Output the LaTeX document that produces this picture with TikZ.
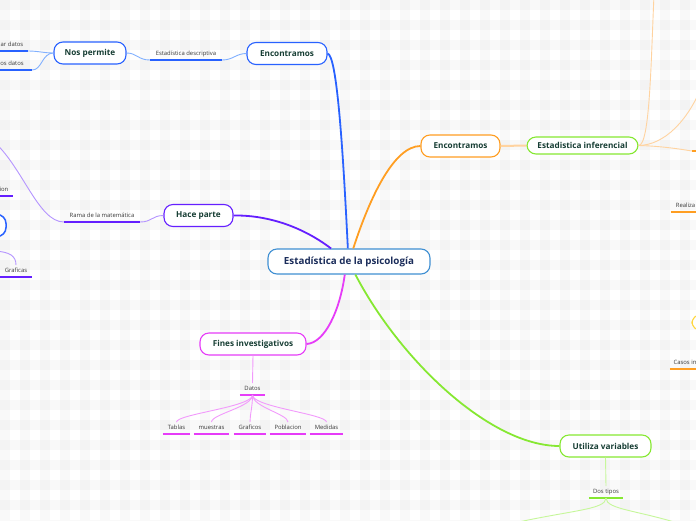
\documentclass[tikz,border=0pt]{standalone}
\usepackage{fontspec}
\setmainfont{Open Sans}
\usepackage{xcolor}
\usetikzlibrary{calc, positioning}
\definecolor{cBlue}{HTML}{2962FF}
\definecolor{cBlueL}{HTML}{82B1FF}
\definecolor{cRoot}{HTML}{3F8FD2}
\definecolor{cOrange}{HTML}{FF9E22}
\definecolor{cOrangeL}{HTML}{FFD3A0}
\definecolor{cGreen}{HTML}{86E832}
\definecolor{cGreenL}{HTML}{C6F79A}
\definecolor{cPurple}{HTML}{651FFF}
\definecolor{cPurpleL}{HTML}{B595FF}
\definecolor{cMag}{HTML}{E63CF8}
\definecolor{cMagL}{HTML}{F29AFC}
\definecolor{cYellow}{HTML}{FFD740}
\definecolor{nodetxt}{HTML}{163D33}
\definecolor{roottxt}{HTML}{1A2C5A}
\definecolor{lbltxt}{HTML}{3A3A3A}
\tikzset{topic/.style={draw=#1, line width=1.1pt, rounded corners=9pt, fill=white, inner sep=0pt, minimum height=22pt, text=nodetxt, font=\fontsize{8.2}{9}\selectfont\bfseries}}
\tikzset{lbl/.style={anchor=south, inner xsep=0pt, inner ysep=3pt, text height=4pt, text depth=1.5pt, text=lbltxt, font=\fontsize{5.9}{6}\selectfont, append after command={(\tikzlastnode.south west) edge[draw=#1, line width=1.3pt] (\tikzlastnode.south east)}}}
\tikzset{branch/.style={draw=#1, line width=1.8pt}}
\tikzset{twig/.style={draw=#1, line width=0.9pt}}

\begin{document}
\begin{tikzpicture}[x=1pt, y=-1pt]
\useasboundingbox (0,0) rectangle (696,520);
\clip (0,0) rectangle (696,520);
\fill[white] (0,0) rectangle (696,520);
\foreach \i in {0,20,...,680}
    \fill[black, opacity=0.025] (\i,0) rectangle ++(10,520);
\foreach \j in {0,20,...,520}
    \fill[black, opacity=0.025] (0,\j) rectangle ++(696,10);

\node[topic=cRoot, minimum width=162pt, minimum height=25pt, text=roottxt, font=\fontsize{9.8}{11}\selectfont\bfseries] (root) at (349,261.5) {Estadística de la psicología};
\node[topic=cBlue, minimum width=80pt] (enc1) at (287,53.5) {Encontramos};
\node[topic=cBlue, minimum width=72pt] (perm) at (90,53) {Nos permite};
\node[topic=cPurple, minimum width=69pt] (hace) at (198.5,215.5) {Hace parte};
\node[topic=cOrange, minimum width=79pt] (enc2) at (460.5,146) {Encontramos};
\node[topic=cGreen, minimum width=111pt, minimum height=17pt] (inf) at (582.5,145.5) {Estadistica inferencial};
\node[topic=cMag, minimum width=106pt] (fines) at (253,344) {Fines investigativos};
\node[topic=cGreen, minimum width=91pt] (util) at (605.5,446) {Utiliza variables};
\node[topic=cBlue, minimum width=60pt, line width=1.5pt] (lnode) at (-24,225.5) {};
\node[topic=cYellow, minimum width=60pt, minimum height=16pt] (ynode) at (722,322.5) {};

\node[lbl=cBlue, minimum width=72pt] (desc) at (186,60) {Estadística descriptiva};
\node[lbl=cBlue, minimum width=32pt] (ard) at (12,51) {ar datos};
\node[lbl=cBlue, minimum width=40pt] (osd) at (12,70) {os datos};
\node[lbl=cPurple, minimum width=76pt] (rama) at (102,222) {Rama de la matemática};
\node[lbl=cPurple, minimum width=18pt] (ion) at (4,196) {ion};
\node[lbl=cPurple, minimum width=32pt] (gra) at (16,277) {Graficas};
\node[lbl=cOrange, minimum width=30pt] (tr) at (707,151) {};
\node[lbl=cOrange, minimum width=29pt] (real) at (685.5,212) {Realiza};
\node[lbl=cOrange, minimum width=30pt] (casos) at (685,369) {Casos in};
\node[lbl=cMag, minimum width=25pt] (datos) at (252.5,395) {Datos};
\node[lbl=cMag, minimum width=27pt] (tab) at (176.5,434) {Tablas};
\node[lbl=cMag, minimum width=35pt] (mue) at (211.5,434) {muestras};
\node[lbl=cMag, minimum width=32pt] (grf) at (250,434) {Graficos};
\node[lbl=cMag, minimum width=36pt] (pob) at (288,434) {Poblacion};
\node[lbl=cMag, minimum width=33pt] (med) at (326.5,434) {Medidas};
\node[lbl=cGreen, minimum width=34pt] (dos) at (606,498) {Dos tipos};

\coordinate (lt1) at (-8,140);
\coordinate (lt2) at (-5,251);
\coordinate (tr1) at (654,-5);
\coordinate (tr2) at (702,86);
\coordinate (bl) at (505,525);
\coordinate (br) at (690,527);

\draw[branch=cBlue] (root.95) .. controls (343,150) and (337,55) .. (enc1.east);
\draw[branch=cOrange] (root.72) .. controls (370,197) and (394,146) .. (enc2.west);
\draw[branch=cPurple] (root.144) .. controls (300,225) and (265,215) .. (hace.east);
\draw[branch=cMag] (root.-108) .. controls (340,310) and (325,343) .. (fines.east);
\draw[branch=cGreen] (root.-64) .. controls (400,360) and (490,446) .. (util.west);

\draw[twig=cBlueL] (enc1.west) .. controls (236,53.5) and (233,60) .. (desc.south east);
\draw[twig=cBlueL] (desc.south west) .. controls (138,60) and (137,53) .. (perm.east);
\draw[twig=cBlueL] (perm.west) .. controls (44,53) and (38,51) .. (ard.south east);
\draw[twig=cBlueL] (perm.west) .. controls (42,53) and (42,70) .. (osd.south east);
\draw[twig=cPurpleL] (hace.west) .. controls (152,215.5) and (152,222) .. (rama.south east);
\draw[twig=cPurpleL] (rama.south west) .. controls (38,222) and (22,165) .. (lt1);
\draw[twig=cPurpleL] (lt2) .. controls (10,252) and (16,256) .. (gra.north);
\draw[twig=cOrangeL, line width=2pt] (enc2.east) -- (inf.west);
\draw[twig=cOrangeL] (inf.east) .. controls (650,146) and (651,60) .. (tr1);
\draw[twig=cOrangeL] (inf.east) .. controls (665,145) and (688,120) .. (tr2);
\draw[twig=cOrangeL] (inf.east) .. controls (660,146) and (680,149) .. (tr.south west);
\draw[twig=cMagL] (fines.south) -- (datos.north);
\foreach \c in {tab, mue, grf, pob, med}
    \draw[twig=cMagL] (datos.south) .. controls +(0,12) and +(0,-8) .. (\c.north);
\draw[twig=cGreenL] (util.south) -- (dos.north);
\draw[twig=cGreenL] (dos.south) .. controls +(0,12) and (570,510) .. (bl);
\draw[twig=cGreenL] (dos.south) .. controls +(0,12) and (640,510) .. (br);
\end{tikzpicture}
\end{document}
